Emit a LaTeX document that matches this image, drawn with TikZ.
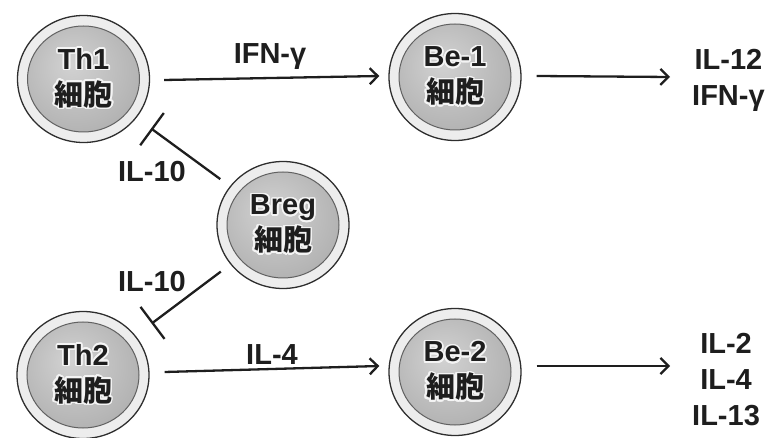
\documentclass[tikz,border=0pt]{standalone}
\usepackage{fontspec}
\setmainfont{Liberation Sans}
\newfontfamily\cjk{Noto Sans CJK JP}
\usepackage[copies]{contour}
\contourlength{1.6pt}
\contournumber{24}
\usetikzlibrary{arrows.meta,shapes.geometric}

\definecolor{ink}{HTML}{1E1E1E}
\definecolor{ringa}{HTML}{EDEDED}
\definecolor{ringb}{HTML}{DADADA}
\definecolor{ringc}{HTML}{C2C2C2}
\definecolor{diska}{HTML}{D2D2D2}
\definecolor{diskb}{HTML}{B6B6B6}
\definecolor{diskc}{HTML}{8E8E8E}
\definecolor{halo}{HTML}{F4F4F4}

\pgfdeclareradialshading{cellring}{\pgfpoint{0bp}{0bp}}{%
  color(0bp)=(ringa); color(40bp)=(ringa); color(45bp)=(ringb); color(50bp)=(ringc)}
\pgfdeclareradialshading{celldisk}{\pgfpoint{-5bp}{6bp}}{%
  color(0bp)=(diska); color(22bp)=(diskb); color(50bp)=(diskc)}

% light halo around the names printed on the cells
\newcommand{\glow}[1]{\contour{halo}{#1}}
\newcommand{\celltext}[1]{\glow{#1}\\\glow{\cjk 細胞}}

\tikzset{
  cell/.style={ellipse, minimum width=132pt, minimum height=127pt, inner sep=0pt,
    draw=black!82, line width=1.3pt, shading=cellring, align=center, text=ink,
    font=\bfseries\fontsize{29}{36}\selectfont,
    path picture={
      \shade[shading=celldisk] (path picture bounding box.center)
        ellipse [x radius=56pt, y radius=53pt];
      \draw[black!62, line width=1pt] (path picture bounding box.center)
        ellipse [x radius=56pt, y radius=53pt];
    }},
  lbl/.style={inner sep=0pt, text=ink, align=center,
    font=\bfseries\fontsize{29}{36}\selectfont},
  arr/.style={draw=ink, line width=2.3pt,
    -{Straight Barb[length=8pt, width=16pt, line width=2.3pt]}},
  inh/.style={draw=ink, line width=2.3pt, -{Bar[width=40pt, line width=2.3pt]}},
}

\begin{document}
\begin{tikzpicture}[x=1pt, y=-1pt]
  \useasboundingbox (0,0) rectangle (769,438);

  % cells
  \node[cell] (th1)  at (83.5,79)  {\celltext{Th1}};
  \node[cell] (be1)  at (455,77)   {\celltext{Be-1}};
  \node[cell] (breg) at (283,225)  {\celltext{Breg}};
  \node[cell] (th2)  at (83,375)   {\celltext{Th2}};
  \node[cell] (be2)  at (455,372)  {\celltext{Be-2}};

  % cytokine labels
  \node[lbl] (ifng) at (270,57)  {IFN-γ};
  \node[lbl] (il4)  at (272,355) {IL-4};
  \node[lbl] (iltop) at (152,172) {IL-10};
  \node[lbl] (ilbot) at (152,282) {IL-10};
  \node[lbl, anchor=west] (out1) at (692,80)  {IL-12\\IFN-γ};
  \node[lbl, anchor=west] (out2) at (692,380) {IL-2\\IL-4\\IL-13};

  % activating connectors
  \draw[arr] ([xshift=14pt,yshift=-1pt]th1.east) -- ([xshift=-9pt,yshift=1pt]be1.west);
  \draw[arr] ([xshift=15pt,yshift=1pt]be1.east) -- ([xshift=-22pt]be1.east -| out1.west);
  \draw[arr] ([xshift=15pt,yshift=3pt]th2.east) -- ([xshift=-9pt,yshift=6pt]be2.west);
  \draw[arr] ([xshift=15pt,yshift=6pt]be2.east) -- ([xshift=-22pt,yshift=6pt]be2.east -| out2.west);

  % inhibitory connectors
  \draw[inh, shorten <=12pt, shorten >=18pt] (breg) -- (th1);
  \draw[inh, shorten <=12pt, shorten >=20pt] (breg) -- (th2);
\end{tikzpicture}
\end{document}
